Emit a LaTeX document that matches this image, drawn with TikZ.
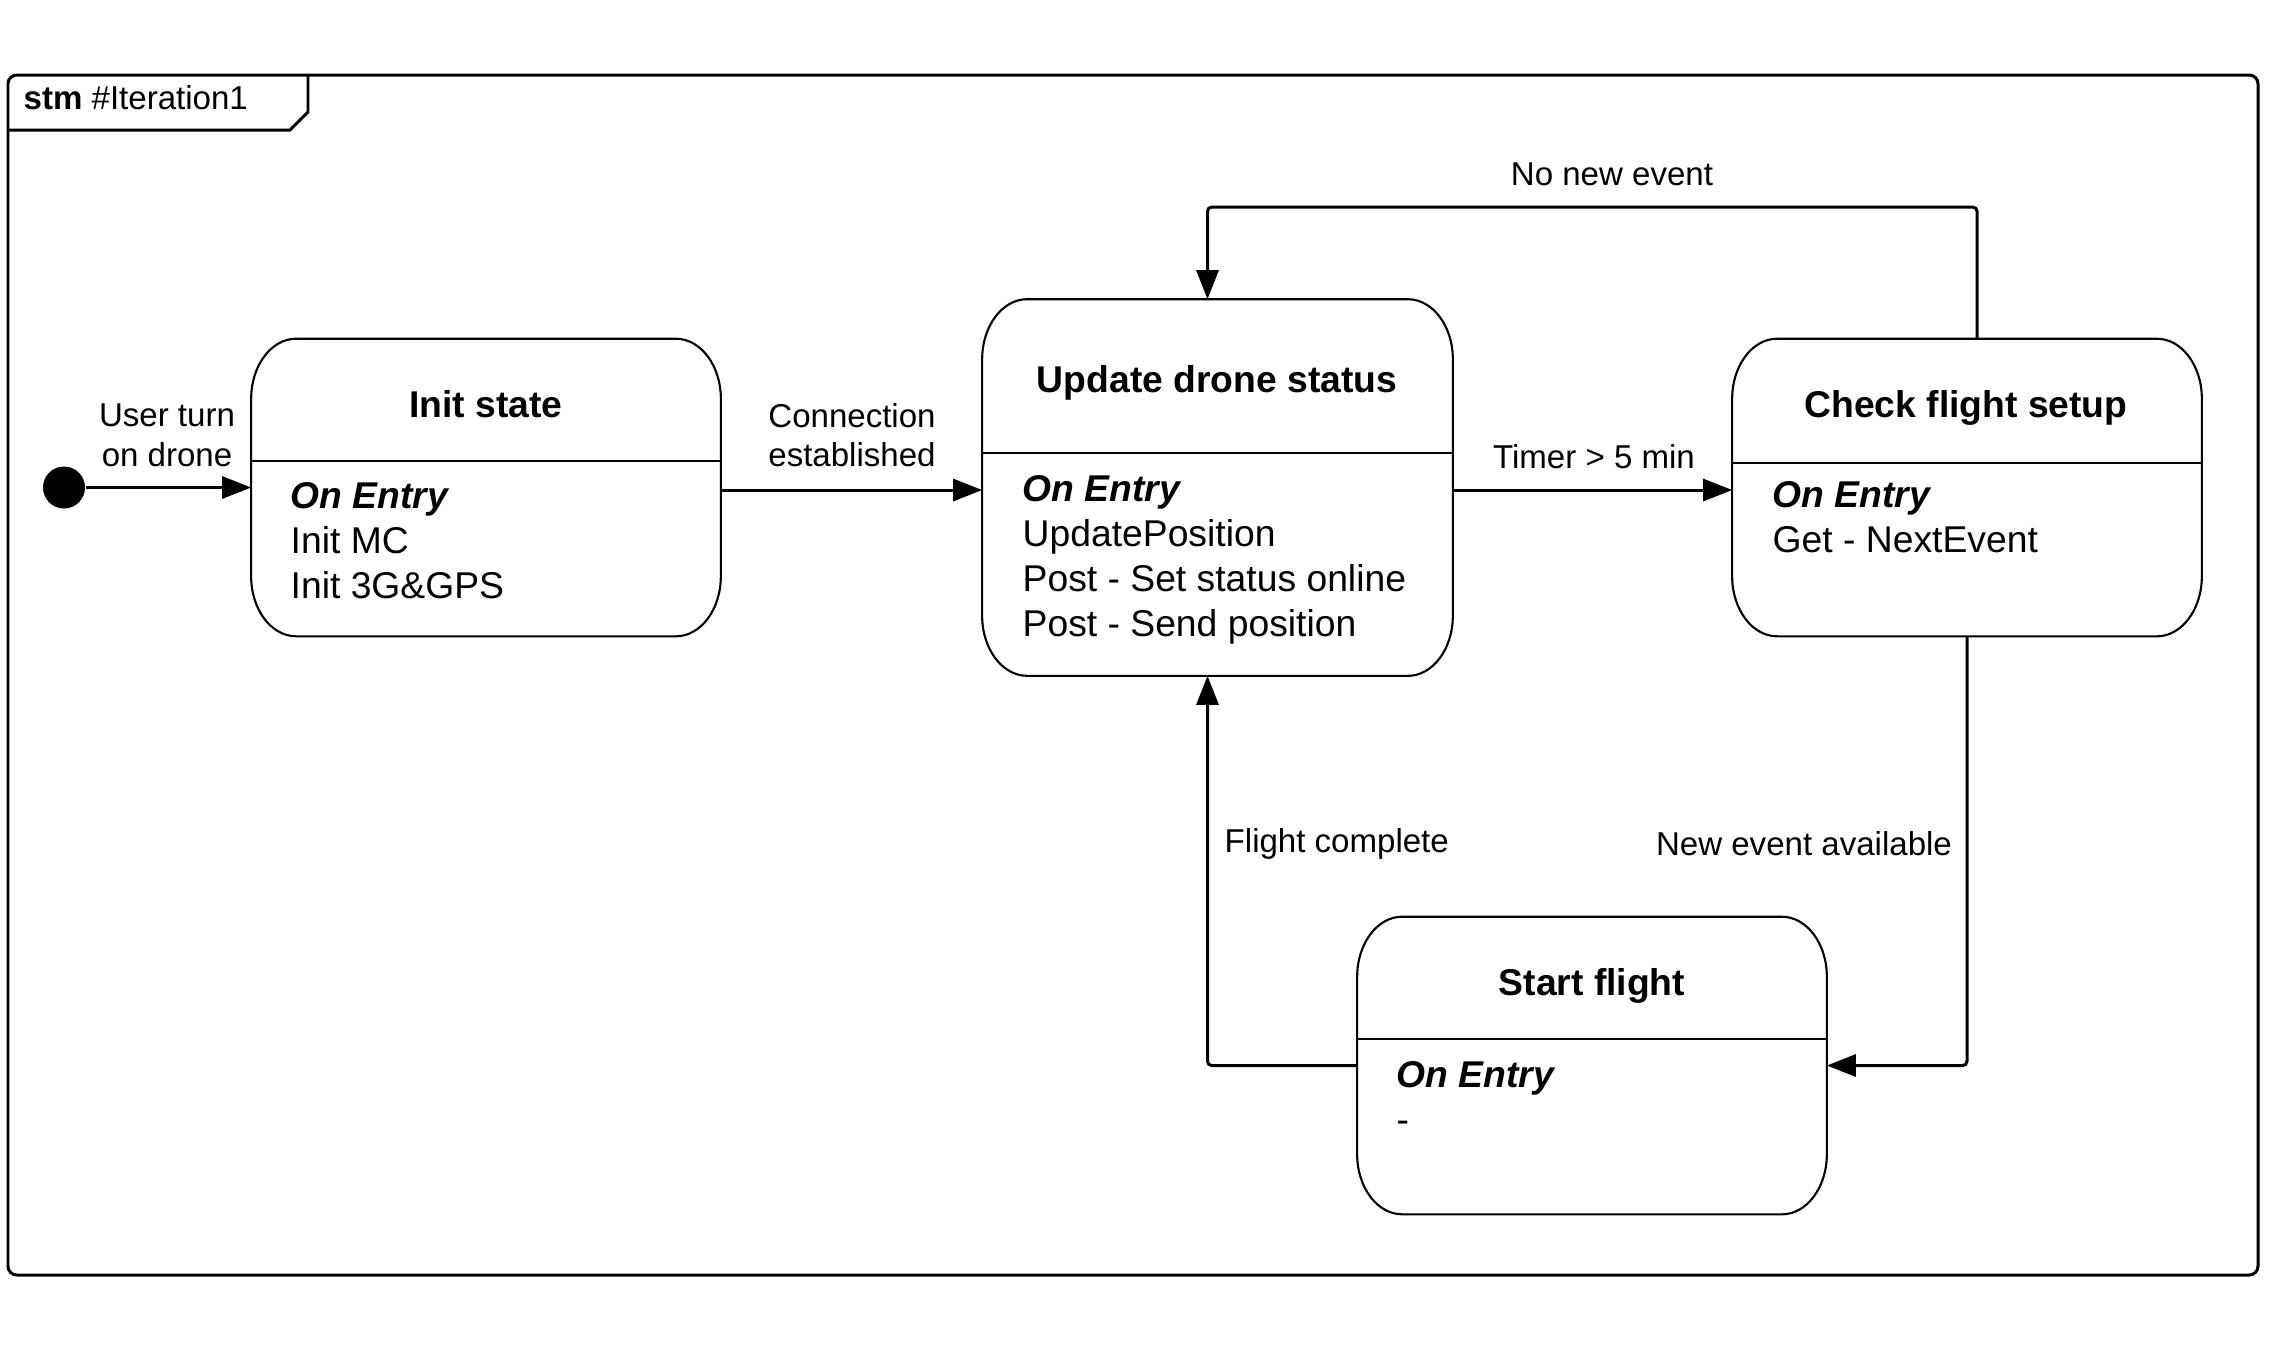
\documentclass[tikz,border=0pt]{standalone}
\usepackage{fontspec}
\setmainfont{Liberation Sans}
\usetikzlibrary{calc,arrows.meta}
\newcommand\drawstate[1]{%
  \draw[boxline] ($(#1.north west)+(45,0)$) -- ($(#1.north east)+(-45,0)$)
    arc[start angle=90,end angle=0,x radius=0.45cm,y radius=0.6cm]
    -- ($(#1.south east)+(0,60)$)
    arc[start angle=0,end angle=-90,x radius=0.45cm,y radius=0.6cm]
    -- ($(#1.south west)+(45,0)$)
    arc[start angle=270,end angle=180,x radius=0.45cm,y radius=0.6cm]
    -- ($(#1.north west)+(0,-60)$)
    arc[start angle=180,end angle=90,x radius=0.45cm,y radius=0.6cm]
    -- cycle;}
\begin{document}
\begin{tikzpicture}[x=0.01cm,y=0.01cm,
  boxline/.style={line width=0.6pt},
  conn/.style={line width=0.85pt,-{Triangle[length=0.29cm,width=0.22cm]},rounded corners=1.2pt},
  statenode/.style={rectangle,inner sep=0,minimum width=4.68cm,minimum height=2.96cm},
  ttl/.style={font=\fontsize{10.6}{12.8}\selectfont\bfseries,anchor=base,inner sep=0},
  bodytxt/.style={font=\fontsize{10.6}{12.8}\selectfont,anchor=base west,inner sep=0},
  lbl/.style={font=\fontsize{9.4}{11.3}\selectfont,anchor=base,inner sep=0}]
\useasboundingbox (0,0) rectangle (2272,-1350);
% frame
\draw[line width=0.85pt,rounded corners=2.5pt] (8,-75) rectangle (2258,-1275);
\draw[line width=0.85pt] (8,-130) -- (290,-130) -- (308,-112) -- (308,-75);
\node[lbl,anchor=base west] (frm) at (23,-109) {\textbf{stm} \#Iteration1};
% states
\node[statenode] (init) at (486,-487.5) {};
\node[statenode,minimum width=4.69cm,minimum height=3.75cm] (upd) at (1217.5,-487.5) {};
\node[statenode] (chk) at (1967,-487.5) {};
\node[statenode] (start) at (1592,-1065.5) {};
\drawstate{init}\drawstate{upd}\drawstate{chk}\drawstate{start}
\draw[boxline] ($(init.north west)+(0,-122)$) -- ($(init.north east)+(0,-122)$);
\draw[boxline] ($(upd.north west)+(0,-154)$) -- ($(upd.north east)+(0,-154)$);
\draw[boxline] ($(chk.north west)+(0,-124)$) -- ($(chk.north east)+(0,-124)$);
\draw[boxline] ($(start.north west)+(0,-122)$) -- ($(start.north east)+(0,-122)$);
% texts in states
\node[ttl] (initT) at (486,-417) {Init state};
\node[bodytxt] (initA) at (290,-508) {\textbf{\textit{On Entry}}};
\node[bodytxt] (initB) at (290,-553) {Init MC};
\node[bodytxt] (initC) at (290,-598) {Init 3G\&GPS};
\node[ttl] (updT) at (1217,-392) {Update drone status};
\node[bodytxt] (updA) at (1022,-501) {\textbf{\textit{On Entry}}};
\node[bodytxt] (updB) at (1022,-546) {UpdatePosition};
\node[bodytxt] (updC) at (1022,-591) {Post - Set status online};
\node[bodytxt] (updD) at (1022,-636) {Post - Send position};
\node[ttl] (chkT) at (1966,-417) {Check flight setup};
\node[bodytxt] (chkA) at (1772,-507) {\textbf{\textit{On Entry}}};
\node[bodytxt] (chkB) at (1772,-552) {Get - NextEvent};
\node[ttl] (startT) at (1592,-995) {Start flight};
\node[bodytxt] (startA) at (1396,-1087) {\textbf{\textit{On Entry}}};
\node[bodytxt] (startB) at (1396,-1132) {-};
% initial
\node[circle,fill,inner sep=0,minimum size=0.42cm] (dot) at (64,-487.5) {};
% connectors
\draw[conn] (dot.east) -- (init.west);
\coordinate (i1) at ($(init.east)+(0,-2.5)$);
\draw[conn] (i1) -- (upd.west |- i1);
\coordinate (k1) at ($(chk.west)+(0,-2.5)$);
\draw[conn] (upd.east |- k1) -- (k1);
\coordinate (c1) at ($(chk.north)+(10,0)$);
\coordinate (u1) at ($(upd.north)+(-10,0)$);
\coordinate (looptop) at (1600,-207);
\draw[conn] (c1) |- (looptop) -| (u1);
\draw[conn] (chk.south) |- (start.east);
\coordinate (u2) at ($(upd.south)+(-10,0)$);
\draw[conn] (start.west) -| (u2);
% labels
\node[lbl] (l1a) at (167,-426) {User turn};
\node[lbl] (l1b) at (167,-466) {on drone};
\node[lbl] (l2a) at (852,-427) {Connection};
\node[lbl] (l2b) at (852,-466) {established};
\node[lbl] (l3) at (1594,-468) {Timer > 5 min};
\node[lbl] (l4) at (1612,-185) {No new event};
\node[lbl,anchor=base west] (l5) at (1224,-852) {Flight complete};
\node[lbl] (l6) at (1804,-855) {New event available};
\end{tikzpicture}
\end{document}
